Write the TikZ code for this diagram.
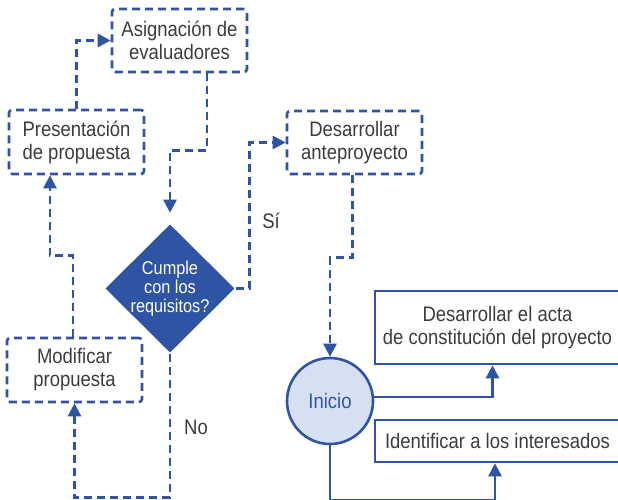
\documentclass[tikz,border=0pt]{standalone}
\usepackage{fontspec}
\setmainfont[FakeStretch=0.88]{Liberation Sans}
\usetikzlibrary{arrows.meta,shapes.geometric}
\definecolor{azul}{HTML}{2F54A3}
\definecolor{celeste}{HTML}{D6E0F3}
\definecolor{gris}{HTML}{3C3C3C}
\begin{document}
\begin{tikzpicture}[x=1pt, y=-1pt, line width=2.6pt]
            \tikzstyle{paso} = [draw=azul, dash pattern=on 8pt off 5pt, rounded corners=3pt, text=gris, align=center, font=\fontsize{21}{23}\selectfont]
            \tikzstyle{tarea} = [draw=azul, text=gris, align=center, font=\fontsize{21}{23}\selectfont]
            \tikzstyle{decision} = [diamond, fill=azul, inner sep=0pt, minimum width=130pt, minimum height=129pt]
            \tikzstyle{flujo} = [draw=azul, dash pattern=on 8pt off 5pt, -{Triangle[length=13pt, width=13pt]}]
            \tikzstyle{linea} = [draw=azul, -{Triangle[length=13pt, width=13pt]}]
            \tikzstyle{rotulo} = [text=gris, font=\fontsize{21}{23}\selectfont]

            \useasboundingbox (0,0) rectangle (618,499);

            \node[paso, minimum width=135pt, minimum height=63pt] (asignacion) at (179.5, 40.5) {Asignación de\\evaluadores};
            \node[paso, minimum width=135pt, minimum height=64pt] (presentacion) at (76.5, 142) {Presentación\\de propuesta};
            \node[paso, minimum width=135pt, minimum height=63pt] (anteproyecto) at (354.5, 142.5) {Desarrollar\\anteproyecto};
            \node[paso, minimum width=135pt, minimum height=64pt] (modificar) at (74.5, 370) {Modificar\\propuesta};
            \node[decision, label={[text=white, align=center, font=\fontsize{18.5}{19}\selectfont]center:Cumple\\con los\\requisitos?}] (cumple) at (170, 288.5) {};
            \node[circle, draw=azul, fill=celeste, minimum size=86pt, inner sep=0pt, text=azul, font=\fontsize{21}{23}\selectfont] (inicio) at (330, 401) {Inicio};
            \node[tarea, minimum width=245pt, minimum height=73pt] (acta) at (497.5, 327.5) {Desarrollar el acta\\de constitución del proyecto};
            \node[tarea, minimum width=245pt, minimum height=42pt] (identificar) at (497.5, 441) {Identificar a los interesados};

            \node[rotulo] (si) at (271, 221) {Sí};
            \node[rotulo] (no) at (196, 427) {No};

            \draw[flujo] (presentacion.north) |- (asignacion.west);
            \draw[flujo, shorten >=10pt] ([xshift=27.5pt]asignacion.south) -- ++(0, 77) -| (cumple.north);
            \draw[flujo] (cumple.east) -- ++(13, 0) |- (anteproyecto.west);
            \draw[flujo] ([xshift=-2pt]anteproyecto.south) -- ++(0, 82) -| (inicio.north);
            \draw[flujo] (cumple.south) -- ++(0, 143) -| (modificar.south);
            \draw[flujo] ([xshift=-1.5pt]modificar.north) -- ++(0, -81) -| ([xshift=-26.5pt]presentacion.south);

            \draw[linea] (inicio.5) -| ([xshift=-5pt]acta.south);
            \draw[linea] (inicio.south) -- ++(0, 55) -| ([xshift=-2.5pt]identificar.south);
          \end{tikzpicture}
\end{document}
